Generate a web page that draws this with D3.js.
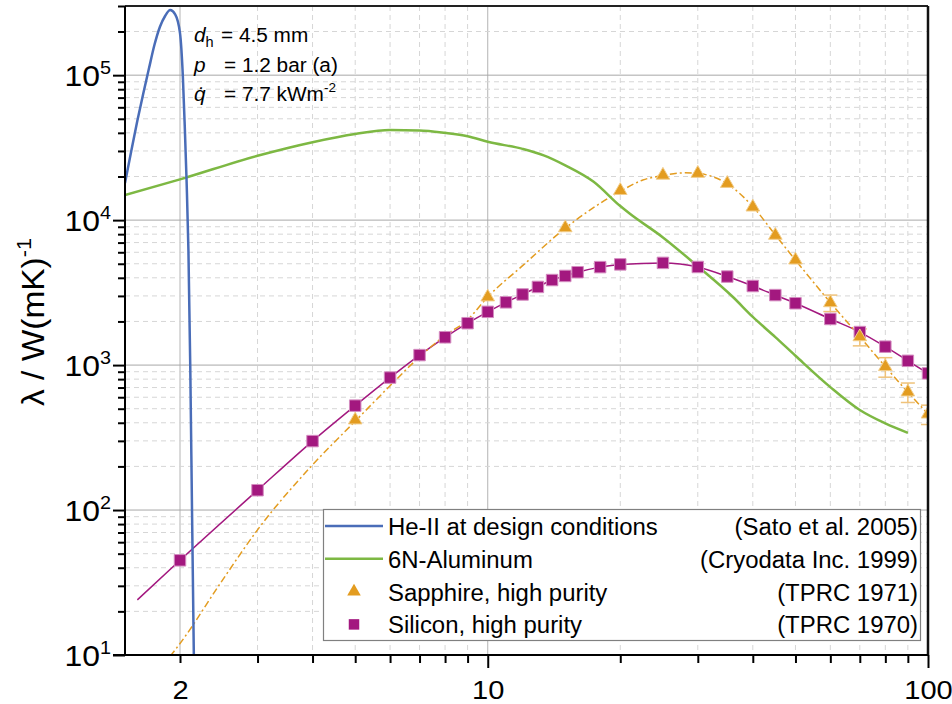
<!DOCTYPE html>
<html>
<head>
<meta charset="utf-8">
<script src="https://cdn.jsdelivr.net/npm/d3@7"></script>
<style>
  body { margin: 0; background: #fff; }
  svg { display: block; font-family: "Liberation Sans", Arial, sans-serif; }
</style>
</head>
<body>
<div id="chart"></div>
<script>
// He-II at design conditions (Sato et al. 2005)
const heliumT = [1.5, 1.55, 1.6, 1.65, 1.7, 1.75, 1.8, 1.85, 1.9, 1.95, 2.0, 2.03, 2.05, 2.07, 2.09, 2.11, 2.13, 2.15];
const heliumK = [18000, 30000, 48500, 74500, 111000, 162000, 215000, 256000, 281000, 263000, 195000, 98000, 45000, 18600, 6200, 1000, 95, 10];

// 6N-Aluminum (Cryodata Inc. 1999)
const aluminumT = [1.5, 2, 3, 4, 5, 6, 7, 8, 9, 10, 12, 13.4, 15, 17.4, 20, 21, 25, 30, 36, 40, 45, 50, 60, 70, 80, 90];
const aluminumK = [14900, 19100, 27800, 34500, 39300, 41800, 41600, 40000, 37900, 34700, 31000, 28000, 23900, 18400, 12500, 11100, 7600, 4800, 2960, 2150, 1560, 1160, 705, 490, 396, 341];

// Sapphire, high purity (TPRC 1971)
const sapphireT = [5, 10, 15, 20, 25, 30, 35, 40, 45, 50, 60, 70, 80, 90, 100];
const sapphireK = [418, 2950, 8850, 16000, 20400, 21000, 17900, 12300, 7850, 5300, 2690, 1567, 975, 652, 459];
const sapphireErr = [0, 0, 0, 0, 0, 0, 0, 0, 0, 0, 350, 210, 150, 100, 70];
const sapphireFitT = [1.9, 2, 2.5, 3, 4, 5, 6, 7, 8, 9, 10, 12, 15, 20, 22.5, 25, 28, 30, 35, 40, 45, 50, 60, 70, 80, 90, 100];
const sapphireFitK = [9.8, 12, 33, 73, 205, 410, 720, 1140, 1600, 2050, 2950, 4850, 8800, 15800, 18900, 20300, 21200, 21000, 17800, 12400, 7900, 5300, 2700, 1570, 975, 650, 460];

// Silicon, high purity (TPRC 1970)
const siliconT = [2, 3, 4, 5, 6, 7, 8, 9, 10, 11, 12, 13, 14, 15, 16, 18, 20, 25, 30, 35, 40, 45, 50, 60, 70, 80, 90, 100];
const siliconK = [45, 137, 299, 525, 820, 1172, 1555, 1945, 2330, 2710, 3070, 3460, 3860, 4120, 4370, 4740, 4950, 5070, 4750, 4080, 3510, 3040, 2670, 2080, 1690, 1340, 1070, 877];
const siliconFitT = [1.6, 2, 3, 4, 5, 6, 7, 8, 9, 10, 11, 12, 13, 14, 15, 16, 18, 20, 25, 30, 35, 40, 45, 50, 60, 70, 80, 90, 100];
const siliconFitK = [24, 45, 137, 299, 525, 820, 1172, 1555, 1945, 2330, 2710, 3070, 3460, 3860, 4120, 4370, 4740, 4950, 5070, 4750, 4080, 3510, 3040, 2670, 2080, 1690, 1340, 1070, 877];

// Axis labels / ticks
const xLabeled = [2, 10, 100];
const yMajor = [10, 100, 1000, 10000, 100000];
const legendNames = ['He-II at design conditions', '6N-Aluminum', 'Sapphire, high purity', 'Silicon, high purity'];
const legendRefs = ['(Sato et al. 2005)', '(Cryodata Inc. 1999)', '(TPRC 1971)', '(TPRC 1970)'];

const colors = { helium: '#4a6db8', aluminum: '#7db843', sapphire: '#e39c20', silicon: '#a3187f' };

const width = 952, height = 704;
const margin = { top: 6, right: 24, bottom: 49, left: 125 };
const innerW = width - margin.left - margin.right;
const innerH = height - margin.top - margin.bottom;

const svg = d3.select('#chart').append('svg')
  .attr('width', width)
  .attr('height', height);

const x = d3.scaleLog().domain([1.5, 100]).range([0, innerW]);
const y = d3.scaleLog().domain([10, 3e5]).range([innerH, 0]);

const g = svg.append('g').attr('transform', `translate(${margin.left},${margin.top})`);

g.append('clipPath').attr('id', 'plot-clip')
  .append('rect').attr('width', innerW).attr('height', innerH);

// grid lines
const grid = g.append('g');
grid.selectAll('.xg').data(x.ticks().filter(t => t < 100))
  .enter().append('line')
  .attr('x1', d => x(d)).attr('x2', d => x(d))
  .attr('y1', 0).attr('y2', innerH)
  .attr('stroke', d => xLabeled.includes(d) ? '#b4b4b4' : '#d6d6d6')
  .attr('stroke-width', 1)
  .attr('stroke-dasharray', d => xLabeled.includes(d) ? null : '5,4');
grid.selectAll('.yg').data(y.ticks().filter(t => t > 10))
  .enter().append('line')
  .attr('x1', 0).attr('x2', innerW)
  .attr('y1', d => y(d)).attr('y2', d => y(d))
  .attr('stroke', d => yMajor.includes(d) ? '#a8a8a8' : '#d6d6d6')
  .attr('stroke-width', 1)
  .attr('stroke-dasharray', d => yMajor.includes(d) ? null : '5,4');

const plot = g.append('g').attr('clip-path', 'url(#plot-clip)');

const line = d3.line()
  .x(d => x(d[0]))
  .y(d => y(d[1]))
  .curve(d3.curveMonotoneX);

// fit lines
plot.append('path')
  .datum(d3.zip(siliconFitT, siliconFitK))
  .attr('d', line)
  .attr('fill', 'none')
  .attr('stroke', colors.silicon)
  .attr('stroke-width', 1.5);

plot.append('path')
  .datum(d3.zip(sapphireFitT, sapphireFitK))
  .attr('d', line)
  .attr('fill', 'none')
  .attr('stroke', colors.sapphire)
  .attr('stroke-width', 1.5)
  .attr('stroke-dasharray', '7,3,2,3');

plot.append('path')
  .datum(d3.zip(aluminumT, aluminumK))
  .attr('d', line)
  .attr('fill', 'none')
  .attr('stroke', colors.aluminum)
  .attr('stroke-width', 2.5);

plot.append('path')
  .datum(d3.zip(heliumT, heliumK))
  .attr('d', line)
  .attr('fill', 'none')
  .attr('stroke', colors.helium)
  .attr('stroke-width', 2.5);

// sapphire error bars
const errData = d3.zip(sapphireT, sapphireK, sapphireErr).filter(d => d[2] > 0);
const eb = plot.selectAll('.eb').data(errData).enter().append('g')
  .attr('stroke', '#efc27a').attr('stroke-width', 1.5);
eb.append('line')
  .attr('x1', d => x(d[0])).attr('x2', d => x(d[0]))
  .attr('y1', d => y(d[1] - d[2])).attr('y2', d => y(d[1] + d[2]));
eb.append('line')
  .attr('x1', d => x(d[0]) - 7).attr('x2', d => x(d[0]) + 7)
  .attr('y1', d => y(d[1] - d[2])).attr('y2', d => y(d[1] - d[2]));
eb.append('line')
  .attr('x1', d => x(d[0]) - 7).attr('x2', d => x(d[0]) + 7)
  .attr('y1', d => y(d[1] + d[2])).attr('y2', d => y(d[1] + d[2]));

// markers
const square = d3.symbol().type(d3.symbolSquare).size(132);
const triangle = d3.symbol().type(d3.symbolTriangle).size(80);

plot.selectAll('.si').data(d3.zip(siliconT, siliconK)).enter().append('path')
  .attr('d', square)
  .attr('transform', d => `translate(${x(d[0])},${y(d[1])})`)
  .attr('fill', colors.silicon)
  .attr('stroke', '#d48cc0')
  .attr('stroke-width', 1);

plot.selectAll('.sa').data(d3.zip(sapphireT, sapphireK)).enter().append('path')
  .attr('d', triangle)
  .attr('transform', d => `translate(${x(d[0])},${y(d[1])})`)
  .attr('fill', colors.sapphire)
  .attr('stroke', '#f2cd8a')
  .attr('stroke-width', 1);

// frame
g.append('line').attr('x1', 0).attr('x2', innerW).attr('y1', 0).attr('y2', 0)
  .attr('stroke', '#222').attr('stroke-width', 2);
g.append('line').attr('x1', innerW).attr('x2', innerW).attr('y1', 0).attr('y2', innerH)
  .attr('stroke', '#111').attr('stroke-width', 2.5);

// axes
const xAxis = g.append('g')
  .attr('transform', `translate(0,${innerH})`)
  .call(d3.axisBottom(x).tickValues(x.ticks()).tickSize(8)
    .tickFormat(d => xLabeled.includes(d) ? d : ''));
xAxis.select('.domain').remove();
xAxis.selectAll('.tick line')
  .attr('stroke', '#000').attr('stroke-width', 2)
  .attr('y2', d => d === 10 || d === 100 ? 13 : 8);
xAxis.selectAll('.tick text')
  .attr('fill', '#000')
  .attr('font-size', 26)
  .attr('y', 44).attr('dy', null)
  .attr('transform', 'scale(1.12,1)')
  .attr('x', 0);

const yAxis = g.append('g')
  .call(d3.axisLeft(y).tickValues(y.ticks()).tickSize(7).tickFormat(''));
yAxis.select('.domain').remove();
yAxis.selectAll('.tick line')
  .attr('stroke', '#000').attr('stroke-width', 2)
  .attr('x2', d => yMajor.includes(d) ? -12 : -7);

const yLab = g.append('g');
yMajor.forEach(v => {
  const t = yLab.append('text')
    .attr('transform', `translate(-14,${y(v) + 11}) scale(1.1,1)`)
    .attr('text-anchor', 'end')
    .attr('font-size', 29)
    .attr('fill', '#000');
  t.append('tspan').text('10');
  t.append('tspan').attr('font-size', 18).attr('dy', -12).text(Math.round(Math.log10(v)));
});

g.append('line').attr('x1', -12).attr('x2', innerW).attr('y1', innerH).attr('y2', innerH)
  .attr('stroke', '#000').attr('stroke-width', 2);
g.append('line').attr('x1', 0).attr('x2', 0).attr('y1', 0).attr('y2', innerH)
  .attr('stroke', '#000').attr('stroke-width', 2);

// y axis title
const yTitle = svg.append('text')
  .attr('transform', `translate(44,322) rotate(-90) scale(1.08,1)`)
  .attr('text-anchor', 'middle')
  .attr('font-size', 31)
  .attr('fill', '#000');
yTitle.append('tspan').text('\u03bb / W(mK)');
yTitle.append('tspan').attr('font-size', 20).attr('dy', -13).text('-1');

// annotation
const ann = svg.append('g').attr('font-size', 20).attr('fill', '#000');
const annLines = [
  { y: 42, sym: 'd', sub: 'h', rest: '= 4.5 mm' },
  { y: 72, sym: 'p', sub: '', rest: '= 1.2 bar (a)' },
  { y: 101, sym: 'q\u0307', sub: '', rest: '= 7.7 kWm', sup: '-2' }
];
annLines.forEach(a => {
  const t = ann.append('text').attr('transform', `translate(194,${a.y}) scale(1.04,1)`);
  t.append('tspan').attr('font-style', 'italic').text(a.sym);
  if (a.sub) t.append('tspan').attr('font-size', 14).attr('dy', 5).text(a.sub);
  t.append('tspan').attr('x', (a.sub ? 27 : 30) / 1.04).attr('y', 0).text(a.rest);
  if (a.sup) t.append('tspan').attr('font-size', 13).attr('dy', -9).text(a.sup);
});

// legend
const legend = svg.append('g');
legend.append('rect')
  .attr('x', 323.5).attr('y', 509.5).attr('width', 597).attr('height', 131)
  .attr('fill', '#fff').attr('stroke', '#808080').attr('stroke-width', 1.2);

legendNames.forEach((name, i) => {
  const cy = 526 + i * 32.8;
  if (i < 2) {
    legend.append('line')
      .attr('x1', 325).attr('x2', 383).attr('y1', cy).attr('y2', cy)
      .attr('stroke', i === 0 ? colors.helium : colors.aluminum)
      .attr('stroke-width', 2.5);
  } else if (i === 2) {
    legend.append('path').attr('d', triangle)
      .attr('transform', `translate(354,${cy})`)
      .attr('fill', colors.sapphire);
  } else {
    legend.append('path').attr('d', d3.symbol().type(d3.symbolSquare).size(110))
      .attr('transform', `translate(354,${cy})`)
      .attr('fill', colors.silicon);
  }
  legend.append('text')
    .attr('transform', `translate(388,${cy + 9}) scale(1.04,1)`)
    .attr('font-size', 23)
    .attr('fill', '#000')
    .text(name);
  legend.append('text')
    .attr('transform', `translate(918,${cy + 9}) scale(1.04,1)`)
    .attr('text-anchor', 'end')
    .attr('font-size', 23)
    .attr('fill', '#000')
    .text(legendRefs[i]);
});
</script>
</body>
</html>
